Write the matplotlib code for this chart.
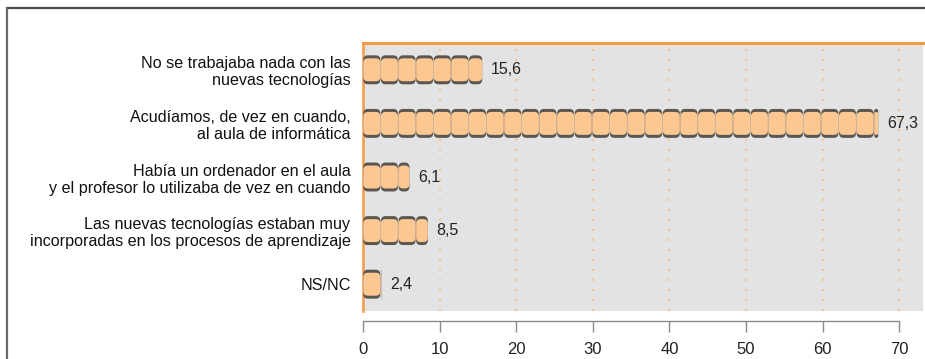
import matplotlib
matplotlib.use("Agg")
import matplotlib.pyplot as plt
from matplotlib.patches import FancyBboxPatch
from matplotlib.lines import Line2D

categories = [
    "No se trabajaba nada con las\nnuevas tecnologías",
    "Acudíamos, de vez en cuando,\nal aula de informática",
    "Había un ordenador en el aula\ny el profesor lo utilizaba de vez en cuando",
    "Las nuevas tecnologías estaban muy\nincorporadas en los procesos de aprendizaje",
    "NS/NC",
]
values = [15.6, 67.3, 6.1, 8.5, 2.4]
value_labels = ["15,6", "67,3", "6,1", "8,5", "2,4"]
xticks = [0, 10, 20, 30, 40, 50, 60, 70]

plt.rcParams["font.family"] = ["Liberation Sans", "DejaVu Sans"]

W, H = 925, 359
fig = plt.figure(figsize=(W / 100, H / 100), dpi=100)
fig.patch.set_facecolor("white")

# plot area in pixels
left_px, right_px, top_px, bottom_px = 363, 923, 43, 311
ax = fig.add_axes([left_px / W, 1 - bottom_px / H,
                   (right_px - left_px) / W, (bottom_px - top_px) / H])
px_per_unit = 7.66
xmax = (right_px - left_px) / px_per_unit
ax.set_xlim(0, xmax)
ax.set_ylim(len(categories) - 0.5, -0.5)
ax.set_facecolor("#E3E3E3")

# outer frame
fig.add_artist(Line2D([7 / W, 1], [1 - 8 / H, 1 - 8 / H], transform=fig.transFigure,
                      color="#4a4a4a", lw=1.6))
fig.add_artist(Line2D([7 / W, 7 / W], [0, 1 - 8 / H], transform=fig.transFigure,
                      color="#6a6a6a", lw=1.6))

# dotted gridlines
for t in xticks[1:]:
    ax.axvline(t, color="#F2C49A", lw=1.6, ls=(0, (1, 3.5)), zorder=1)

# spines
ax.spines["right"].set_visible(False)
ax.spines["top"].set_color("#F39A45")
ax.spines["top"].set_linewidth(2.2)
ax.spines["left"].set_color("#F39A45")
ax.spines["left"].set_linewidth(1.8)
ax.spines["bottom"].set_position(("outward", 7))
ax.spines["bottom"].set_bounds(0, 70)
ax.spines["bottom"].set_color("#8a8a8a")
ax.spines["bottom"].set_linewidth(1.0)

ax.set_xticks(xticks)
ax.set_xticklabels([str(t) for t in xticks], fontsize=12, color="#222222")
ax.tick_params(axis="x", direction="out", length=8, width=1.0, color="#8a8a8a", pad=7)
ax.set_yticks(range(len(categories)))
ax.set_yticklabels(categories, fontsize=11.6, color="#111111", linespacing=1.18)
ax.tick_params(axis="y", length=0, pad=9)

# segmented barrel bars
seg_w = 2.3
bar_h = 0.54
px_y = (bottom_px - top_px) / len(categories)
aspect = px_per_unit / px_y
band = 3.0 / px_y
for i, v in enumerate(values):
    x = 0.0
    while x < v - 1e-9:
        x1 = min(x + seg_w, v)
        w = x1 - x
        r = min(0.6, w / 2.2)
        dark = FancyBboxPatch((x + 0.04, i - bar_h / 2), max(w - 0.08, 0.05), bar_h,
                              boxstyle=f"round,pad=0,rounding_size={r}",
                              mutation_aspect=aspect, fc="#5b5650", ec="none", zorder=3)
        ax.add_patch(dark)
        light = FancyBboxPatch((x + 0.04, i - bar_h / 2 + band), max(w - 0.08, 0.05),
                               bar_h - 2 * band,
                               boxstyle=f"round,pad=0,rounding_size={r}",
                               mutation_aspect=aspect, fc="#FDC792", ec="none", zorder=4)
        ax.add_patch(light)
        x = x1
    ax.text(v + 1.1, i, value_labels[i], va="center", ha="left",
            fontsize=11.5, color="#222222", zorder=5)

fig.savefig("out.png", dpi=100)
